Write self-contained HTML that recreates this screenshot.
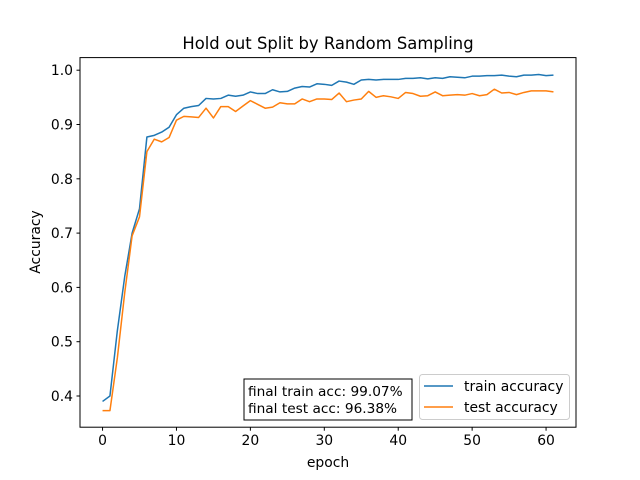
<!DOCTYPE html>
<html><head><meta charset="utf-8"><style>
body{margin:0;background:#fff}
svg{display:block;font-family:"DejaVu Sans","Liberation Sans",sans-serif}
</style></head><body>
<svg id="chart" width="640" height="480">
<rect width="640" height="480" fill="#fff"/>
<text x="328" y="49" text-anchor="middle" font-size="16.4">Hold out Split by Random Sampling</text>
<g id="plot"></g>
<rect x="80" y="57.6" width="496" height="369.6" fill="none" stroke="#000" stroke-width="1"/>
<text x="328" y="467" text-anchor="middle" font-size="13.9">epoch</text>
<text transform="translate(40,242) rotate(-90)" text-anchor="middle" font-size="13.9">Accuracy</text>
<g>
<rect x="244" y="379" width="168" height="41" fill="#fff" stroke="#000" stroke-width="1"/>
<text x="248" y="396" font-size="13.7">final train acc: 99.07%</text>
<text x="248" y="413" font-size="13.7">final test acc: 96.38%</text>
</g>
<g>
<rect x="419.5" y="374.5" width="150" height="45" rx="3" fill="#fff" stroke="#ccc" stroke-width="1"/>
<line x1="424" y1="386" x2="453" y2="386" stroke="#1f77b4" stroke-width="1.5"/>
<text x="464" y="391" font-size="13.9">train accuracy</text>
<line x1="424" y1="407" x2="453" y2="407" stroke="#ff7f0e" stroke-width="1.5"/>
<text x="464" y="412" font-size="13.9">test accuracy</text>
</g>
</svg>
<script>
const trainAcc=[0.39,0.40,0.52,0.62,0.70,0.745,0.877,0.88,0.886,0.895,0.918,0.93,0.933,0.935,0.948,0.947,0.948,0.954,0.952,0.954,0.96,0.957,0.957,0.964,0.96,0.961,0.967,0.97,0.969,0.975,0.974,0.972,0.98,0.978,0.974,0.982,0.983,0.982,0.983,0.983,0.983,0.985,0.985,0.986,0.984,0.986,0.985,0.988,0.987,0.986,0.989,0.989,0.99,0.99,0.991,0.989,0.988,0.991,0.991,0.992,0.99,0.991];
const testAcc=[0.373,0.373,0.47,0.59,0.695,0.73,0.85,0.873,0.868,0.876,0.908,0.915,0.914,0.913,0.93,0.912,0.933,0.933,0.924,0.934,0.944,0.937,0.93,0.932,0.94,0.938,0.938,0.947,0.942,0.947,0.947,0.946,0.958,0.942,0.945,0.947,0.961,0.95,0.953,0.951,0.948,0.959,0.957,0.952,0.953,0.96,0.953,0.954,0.955,0.954,0.957,0.953,0.955,0.965,0.958,0.959,0.955,0.959,0.962,0.962,0.962,0.960];
const xTicks=[0,10,20,30,40,50,60];
const yTicks=[0.4,0.5,0.6,0.7,0.8,0.9,1.0];
const NS="http://www.w3.org/2000/svg";
const g=document.getElementById('plot');
const n=trainAcc.length;
const xmin=-(n-1)*0.05, xmax=(n-1)*1.05;
const X=v=>80+(v-xmin)/(xmax-xmin)*496;
const Y=v=>396-(v-0.4)*543;
function el(t,a){const e=document.createElementNS(NS,t);for(const k in a)e.setAttribute(k,a[k]);g.appendChild(e);return e;}
xTicks.forEach(t=>{
  const l=el('line',{x1:X(t),x2:X(t),y1:427.2,y2:430.7,stroke:'#000'});
  
  
  const tx=el('text',{x:X(t),y:445,'text-anchor':'middle','font-size':'13.9'});
  tx.textContent=t;
  
  
});
yTicks.forEach(t=>{
  const l=el('line',{x1:76.5,x2:80,y1:Y(t),y2:Y(t),stroke:'#000'});
  
  
  const tx=el('text',{x:73,y:Y(t)+5,'text-anchor':'end','font-size':'13.9'});
  tx.textContent=t.toFixed(1);
  
  
});
function line(arr,color,name){
  const p=el('polyline',{points:arr.map((v,i)=>X(i)+','+Y(v)).join(' '),fill:'none',stroke:color,'stroke-width':1.5,'stroke-linejoin':'round'});
  
  
}
line(trainAcc,'#1f77b4','train-accuracy-line');
line(testAcc,'#ff7f0e','test-accuracy-line');
</script>
</body></html>
